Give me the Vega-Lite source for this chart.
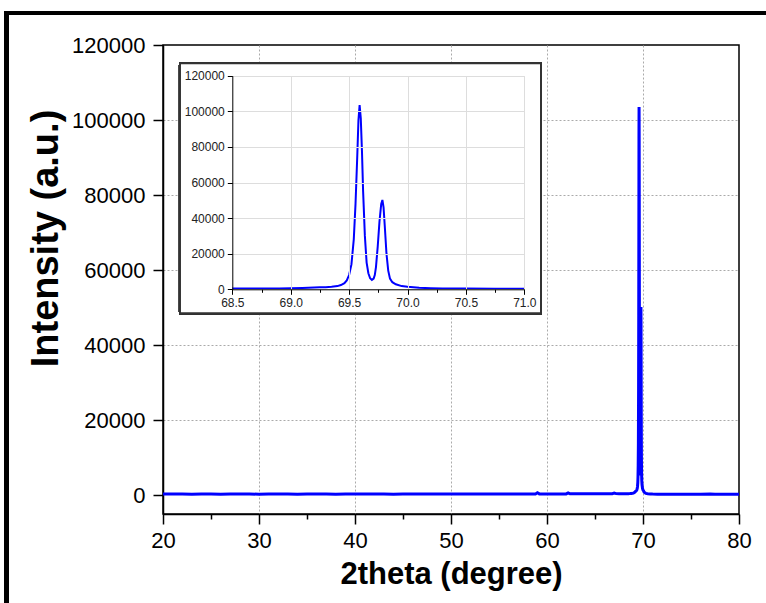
{
  "$schema": "https://vega.github.io/schema/vega-lite/v6.json",
  "width": 576,
  "height": 469,
  "autosize": "none",
  "padding": {"left": 163, "top": 45, "right": 27, "bottom": 89},
  "background": "white",
  "config": {
    "view": {"stroke": "black", "strokeWidth": 1.5},
    "font": "Liberation Sans",
    "axis": {"labelFont": "Liberation Sans", "titleFont": "Liberation Sans"}
  },
  "data": {
    "values": [
      {"t": 20, "I": 320}, {"t": 21, "I": 300}, {"t": 22, "I": 310}, {"t": 23, "I": 290},
      {"t": 24, "I": 305}, {"t": 25, "I": 310}, {"t": 26, "I": 290}, {"t": 27, "I": 300},
      {"t": 28, "I": 310}, {"t": 29, "I": 300}, {"t": 30, "I": 295}, {"t": 31, "I": 300},
      {"t": 32, "I": 310}, {"t": 33, "I": 300}, {"t": 34, "I": 290}, {"t": 35, "I": 300},
      {"t": 36, "I": 310}, {"t": 37, "I": 300}, {"t": 38, "I": 295}, {"t": 39, "I": 300},
      {"t": 40, "I": 310}, {"t": 41, "I": 300}, {"t": 42, "I": 305}, {"t": 43, "I": 310},
      {"t": 44, "I": 295}, {"t": 45, "I": 300}, {"t": 46, "I": 310}, {"t": 47, "I": 300},
      {"t": 48, "I": 305}, {"t": 49, "I": 310}, {"t": 50, "I": 300}, {"t": 51, "I": 310},
      {"t": 52, "I": 305}, {"t": 53, "I": 320}, {"t": 54, "I": 310}, {"t": 55, "I": 320},
      {"t": 56, "I": 330}, {"t": 57, "I": 330}, {"t": 58, "I": 340}, {"t": 58.8, "I": 350},
      {"t": 59.0, "I": 650}, {"t": 59.2, "I": 360}, {"t": 60, "I": 350}, {"t": 61, "I": 350},
      {"t": 62.0, "I": 360}, {"t": 62.2, "I": 620}, {"t": 62.4, "I": 370}, {"t": 63, "I": 370},
      {"t": 64, "I": 380}, {"t": 65, "I": 390}, {"t": 66, "I": 400}, {"t": 66.8, "I": 420},
      {"t": 67.0, "I": 560}, {"t": 67.2, "I": 430}, {"t": 67.5, "I": 420}, {"t": 68, "I": 420},
      {"t": 68.5, "I": 420}, {"t": 68.6, "I": 430}, {"t": 68.7, "I": 450}, {"t": 68.8, "I": 470},
      {"t": 68.9, "I": 500}, {"t": 69.0, "I": 560}, {"t": 69.1, "I": 700}, {"t": 69.2, "I": 950},
      {"t": 69.25, "I": 1100}, {"t": 69.3, "I": 1200}, {"t": 69.35, "I": 1400}, {"t": 69.4, "I": 1800},
      {"t": 69.43, "I": 2400}, {"t": 69.46, "I": 3400}, {"t": 69.48, "I": 5000}, {"t": 69.5, "I": 8000},
      {"t": 69.52, "I": 14000}, {"t": 69.54, "I": 28000}, {"t": 69.555, "I": 48000}, {"t": 69.57, "I": 75000},
      {"t": 69.58, "I": 95000}, {"t": 69.59, "I": 103500}, {"t": 69.6, "I": 96000}, {"t": 69.61, "I": 78000},
      {"t": 69.62, "I": 55000}, {"t": 69.635, "I": 30000}, {"t": 69.65, "I": 15000}, {"t": 69.665, "I": 9000},
      {"t": 69.68, "I": 6200}, {"t": 69.695, "I": 5300}, {"t": 69.71, "I": 6000}, {"t": 69.72, "I": 8000},
      {"t": 69.73, "I": 12500}, {"t": 69.745, "I": 24000}, {"t": 69.76, "I": 38000}, {"t": 69.775, "I": 48000},
      {"t": 69.785, "I": 50200}, {"t": 69.795, "I": 46000}, {"t": 69.805, "I": 36000}, {"t": 69.82, "I": 20000},
      {"t": 69.835, "I": 10500}, {"t": 69.85, "I": 6000}, {"t": 69.87, "I": 4000}, {"t": 69.9, "I": 2800},
      {"t": 69.95, "I": 1800}, {"t": 70.0, "I": 1400}, {"t": 70.05, "I": 1200}, {"t": 70.1, "I": 900},
      {"t": 70.2, "I": 650}, {"t": 70.3, "I": 500}, {"t": 70.5, "I": 400}, {"t": 70.75, "I": 350},
      {"t": 71.0, "I": 300}, {"t": 71.5, "I": 290}, {"t": 72, "I": 280}, {"t": 73, "I": 280},
      {"t": 74, "I": 270}, {"t": 75, "I": 270}, {"t": 76, "I": 260}, {"t": 77, "I": 300},
      {"t": 77.5, "I": 260}, {"t": 78, "I": 260}, {"t": 79, "I": 250}, {"t": 80, "I": 250}
    ]
  },
  "layer": [
    {
      "layer": [
        {
          "mark": {"type": "line", "color": "#0000ff", "strokeWidth": 3, "clip": true},
          "encoding": {
            "x": {
              "field": "t", "type": "quantitative",
              "scale": {"domain": [20, 80], "nice": false, "zero": false},
              "axis": {
                "title": "2theta (degree)",
                "values": [20, 25, 30, 35, 40, 45, 50, 55, 60, 65, 70, 75, 80],
                "labelExpr": "datum.value % 10 === 0 ? datum.label : ''",
                "tickSize": {"condition": {"test": "datum.value % 10 === 0", "value": 10}, "value": 5},
                "grid": true,
                "gridOpacity": {"condition": {"test": "datum.value % 10 === 0 && datum.value > 20 && datum.value < 80", "value": 1}, "value": 0},
                "gridDash": [2, 2], "gridColor": "#aaaaaa", "gridWidth": 1,
                "domainColor": "black", "domainWidth": 1.5,
                "tickColor": "black", "tickWidth": 1.5,
                "labelFontSize": 22, "labelColor": "black", "labelPadding": 6,
                "labelFlush": false, "labelOverlap": false,
                "titleFontSize": 31, "titleFontWeight": "bold", "titleColor": "black", "titlePadding": 8
              }
            },
            "y": {
              "field": "I", "type": "quantitative",
              "scale": {"domain": [-5000, 120000], "nice": false, "zero": false},
              "axis": {
                "title": "Intensity (a.u.)",
                "values": [0, 10000, 20000, 30000, 40000, 50000, 60000, 70000, 80000, 90000, 100000, 110000, 120000],
                "labelExpr": "datum.value % 20000 === 0 ? datum.value + '' : ''",
                "tickSize": {"condition": {"test": "datum.value % 20000 === 0", "value": 10}, "value": 5},
                "grid": true,
                "gridOpacity": {"condition": {"test": "datum.value % 20000 === 0 && datum.value > 0 && datum.value < 120000", "value": 1}, "value": 0},
                "gridDash": [2, 2], "gridColor": "#aaaaaa", "gridWidth": 1,
                "domainColor": "black", "domainWidth": 1.5,
                "tickColor": "black", "tickWidth": 1.5,
                "labelFontSize": 22, "labelColor": "black", "labelPadding": 8,
                "labelOverlap": false,
                "titleFontSize": 38, "titleFontWeight": "bold", "titleColor": "black",
                "titleX": -106, "titleY": 193, "titleBaseline": "alphabetic", "titleAlign": "center", "titleAngle": 270
              }
            }
          }
        },
        {
          "mark": {"type": "rect", "fill": null, "stroke": "black", "strokeWidth": 3.5},
          "encoding": {
            "x": {"datum": 3.7, "type": "quantitative"},
            "x2": {"datum": 84.3},
            "y": {"datum": 128529, "type": "quantitative"},
            "y2": {"datum": -33250}
          }
        }
      ]
    },
    {
      "transform": [{"filter": "datum.t >= 68.5 && datum.t <= 71"}],
      "layer": [
        {
          "mark": {"type": "rect", "fill": "white", "stroke": "#333333", "strokeWidth": 2},
          "encoding": {
            "x": {"datum": 68.052, "type": "quantitative"},
            "x2": {"datum": 71.143},
            "y": {"datum": 126966, "type": "quantitative"},
            "y2": {"datum": -13483}
          }
        },
        {
          "mark": {"type": "line", "color": "#0000ff", "strokeWidth": 2},
          "encoding": {
            "x": {
              "field": "t", "type": "quantitative",
              "scale": {"domain": [68.5, 71], "range": [69.3, 361.3], "nice": false, "zero": false},
              "axis": {
                "title": null, "orient": "bottom", "offset": -224.7, "zindex": 1,
                "values": [68.5, 68.75, 69, 69.25, 69.5, 69.75, 70, 70.25, 70.5, 70.75, 71],
                "labelExpr": "abs(datum.value * 2 - round(datum.value * 2)) < 0.001 ? format(datum.value, '.1f') : ''",
                "tickSize": {"condition": {"test": "abs(datum.value * 2 - round(datum.value * 2)) < 0.001", "value": 5}, "value": 3},
                "grid": false,
                "domainColor": "black", "domainWidth": 1,
                "tickColor": "black", "tickWidth": 1,
                "labelFontSize": 12, "labelColor": "#222222", "labelPadding": 3,
                "labelFlush": false, "labelOverlap": false
              }
            },
            "y": {
              "field": "I", "type": "quantitative",
              "scale": {"domain": [0, 120000], "range": [244.3, 30.7], "nice": false, "zero": false},
              "axis": {
                "title": null, "orient": "left", "offset": -69.3, "zindex": 1,
                "values": [0, 10000, 20000, 30000, 40000, 50000, 60000, 70000, 80000, 90000, 100000, 110000, 120000],
                "labelExpr": "datum.value % 20000 === 0 ? datum.value + '' : ''",
                "tickSize": {"condition": {"test": "datum.value % 20000 === 0", "value": 5}, "value": 3},
                "grid": true,
                "gridOpacity": {"condition": {"test": "datum.value % 20000 === 0", "value": 1}, "value": 0},
                "gridColor": "#dddddd", "gridWidth": 1,
                "domainColor": "black", "domainWidth": 1,
                "tickColor": "black", "tickWidth": 1,
                "labelFontSize": 12, "labelColor": "#222222", "labelPadding": 3,
                "labelOverlap": false
              }
            }
          }
        }
      ]
    },
    {
      "transform": [{"filter": "datum.t >= 68.5 && datum.t <= 71"}],
      "mark": {"type": "line", "opacity": 0},
      "encoding": {
        "x": {
          "field": "t", "type": "quantitative",
          "scale": {"domain": [68.5, 71], "range": [69.3, 361.3], "nice": false, "zero": false},
          "axis": {
            "title": null, "orient": "top", "offset": 0, "zindex": 1,
            "values": [69, 69.5, 70, 70.5, 71],
            "grid": true, "gridColor": "#dddddd", "gridWidth": 1,
            "domain": false, "ticks": false, "labels": false
          }
        },
        "y": {
          "field": "I", "type": "quantitative",
          "scale": {"domain": [0, 120000], "range": [244.3, 30.7], "nice": false, "zero": false},
          "axis": null
        }
      }
    }
  ],
  "resolve": {
    "scale": {"x": "independent", "y": "independent"},
    "axis": {"x": "independent", "y": "independent"}
  }
}
